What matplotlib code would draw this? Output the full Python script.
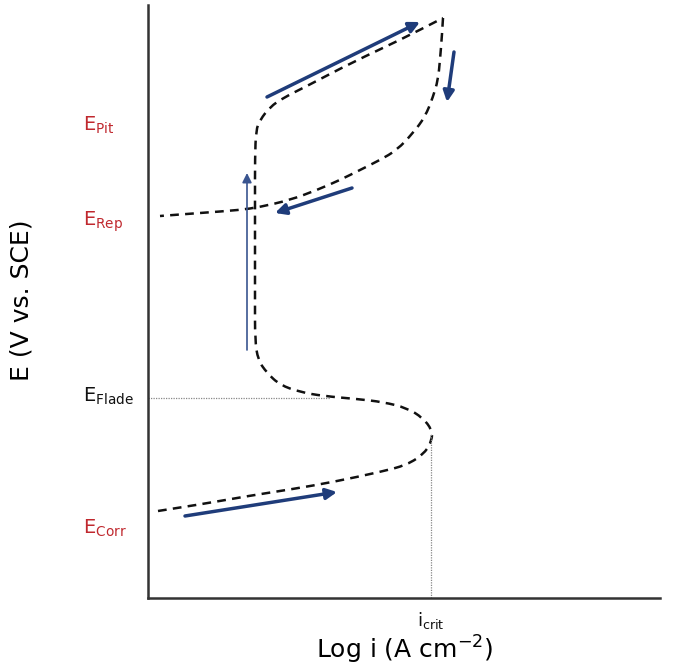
import matplotlib.pyplot as plt
import numpy as np
from matplotlib.path import Path
from matplotlib.patches import PathPatch

# Polarisation curve (x = log i, y = E, arbitrary units)
# forward scan, from E_corr up to the vertex
fwd_log_i = [10, 55, 100, 145, 185, 232, 259, 277, 284, 284, 275, 259, 235,
             209, 175, 152, 132, 119, 110, 107, 107, 107, 107, 107, 108, 112,
             122, 135, 159, 205, 252, 295]
fwd_E = [87, 94, 102, 109, 116, 126, 133, 145, 158, 168, 180, 190, 196,
         199, 202, 206, 213, 225, 238, 258, 300, 350, 400, 440, 468, 478,
         491, 500, 512, 536, 558, 580]
# reverse scan, from the vertex back down
rev_log_i = [295, 294, 292, 290, 285, 277, 265, 249, 232, 212, 192, 169, 142,
             112, 92, 52, 12]
rev_E = [580, 563, 538, 518, 501, 481, 465, 448, 438, 428, 418, 408, 398,
         391, 388, 385, 382]

# Direction arrows: (x_start, y_start, x_end, y_end)
arrows = [(119, 501, 272, 576), (306, 546, 299, 496), (204, 410, 127, 385),
          (37, 82, 189, 106)]
thin_arrow = (99, 248, 99, 425)

E_flade = 200
i_crit = 283
i_nose = 165


def smooth_path(xs, ys):
    # quadratic Bezier chain through the read points (points act as controls)
    pts = np.column_stack([xs, ys]).astype(float)
    verts = [pts[0]]
    codes = [Path.MOVETO]
    for k in range(1, len(pts) - 1):
        verts += [pts[k], (pts[k] + pts[k + 1]) / 2]
        codes += [Path.CURVE3, Path.CURVE3]
    verts.append(pts[-1])
    codes.append(Path.LINETO)
    return Path(verts, codes)


fig = plt.figure(figsize=(6.84, 6.72), dpi=100)
ax = fig.add_axes([148 / 684, 74 / 672, 512 / 684, 593 / 672])
ax.set_xlim(0, 512)
ax.set_ylim(0, 593)

for xs, ys in [(fwd_log_i, fwd_E), (rev_log_i, rev_E)]:
    ax.add_patch(PathPatch(smooth_path(xs, ys), fill=False, edgecolor='#111111',
                           lw=1.8, ls=(0, (3.5, 2.5))))

ax.plot([0, 182], [E_flade, E_flade], color='#888888', lw=0.9, ls=(0, (1, 1)))
ax.plot([i_crit, i_crit], [0, i_nose], color='#888888', lw=0.9, ls=(0, (1, 1)))

navy = '#1f3c7a'
for x0, y0, x1, y1 in arrows:
    ax.annotate('', xy=(x1, y1), xytext=(x0, y0),
                arrowprops=dict(arrowstyle='-|>', color=navy, lw=2.5,
                                mutation_scale=16, shrinkA=0, shrinkB=0))
x0, y0, x1, y1 = thin_arrow
ax.annotate('', xy=(x1, y1), xytext=(x0, y0),
            arrowprops=dict(arrowstyle='-|>', color='#3a5590', lw=1.2,
                            mutation_scale=14, shrinkA=0, shrinkB=0))

# Potential labels
red = '#c0282e'
labels = [('Pit', 473, red), ('Rep', 376, red), ('Flade', 202, '#111111'),
          ('Corr', 70, red)]
for sub, y, c in labels:
    ax.text(-65, y, r'$\mathregular{E_{%s}}$' % sub, color=c, fontsize=14,
            ha='left', va='center', clip_on=False)
ax.text(i_crit, -12, r'$\mathregular{i_{crit}}$', color='#111111', fontsize=13,
        ha='center', va='top', clip_on=False)

for s in ['top', 'right']:
    ax.spines[s].set_visible(False)
for s in ['left', 'bottom']:
    ax.spines[s].set_linewidth(1.8)
    ax.spines[s].set_color('#333333')
ax.set_xticks([])
ax.set_yticks([])

fig.text(22 / 684, 1 - 300 / 672, 'E (V vs. SCE)', rotation=90, fontsize=18,
         ha='center', va='center')
fig.text(405 / 684, 1 - 650 / 672, r'Log i (A cm$^{-2}$)', fontsize=18,
         ha='center', va='center')

fig.savefig('out.png', dpi=100)
